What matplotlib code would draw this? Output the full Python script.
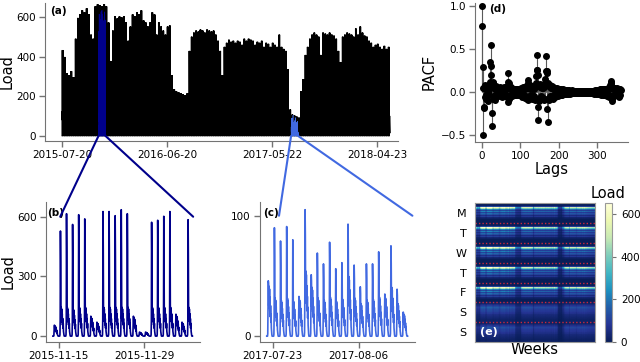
import matplotlib
matplotlib.use("Agg")
import matplotlib.pyplot as plt
import matplotlib.dates as mdates
from matplotlib.patches import ConnectionPatch
import numpy as np

# ---- data ----
# weekly peak load, one value per week starting 2015-07-20 (panel a / e)
weekly_peak = [
    424, 390, 310, 300, 320, 290, 480, 583, 600, 620,
    610, 630, 600, 500, 480, 640, 650, 645, 640, 650,
    640, 560, 370, 520, 590, 580, 590, 585, 590, 560,
    470, 540, 600, 590, 610, 600, 620, 570, 560, 540,
    560, 610, 600, 500, 560, 540, 520, 500, 540, 545,
    300, 230, 220, 215, 210, 205, 200, 210, 420, 490,
    510, 520, 515, 525, 520, 510, 525, 520, 515, 520,
    500, 470, 420, 300, 440, 460, 475, 465, 470, 460,
    470, 465, 450, 480, 470, 480, 475, 470, 450, 465,
    460, 470, 440, 460, 455, 440, 460, 450, 440, 500,
    440, 430, 420, 330, 130, 105, 100, 95, 90, 220,
    280, 400, 440, 480, 500, 510, 500, 490, 400, 510,
    505, 500, 510, 500, 495, 480, 420, 365, 490, 500,
    510, 505, 500, 490, 530, 500, 540, 510, 495, 490,
    470, 460, 440, 450, 455, 440, 430, 445, 430, 440,
]
week0 = np.datetime64("2015-07-20T00")

# hourly shape of one working day (plateau part) and the sharp spike
day_shape = [0.0, 0.0, 0.0, 0.0, 0.05, 0.5, 1.0, 0.95, 0.55, 0.9, 0.5, 0.85,
             0.45, 0.7, 0.35, 0.55, 0.25, 0.4, 0.15, 0.08, 0.03, 0.0, 0.0, 0.0]
spike_shape = [0, 0, 0, 0, 0, 0, 1, 0.6, 0, 0, 0, 0,
               0, 0, 0, 0, 0, 0, 0, 0, 0, 0, 0, 0]
# flatter shape of a weekend day
weekend_shape = [0.15, 0.15, 0.2, 0.4, 0.6, 0.8, 1.0, 0.9, 0.9, 0.8, 0.75, 0.7,
                 0.6, 0.55, 0.5, 0.4, 0.35, 0.3, 0.25, 0.2, 0.2, 0.15, 0.15, 0.15]
# share of the weekly peak per weekday (Mon..Sun)
spike_weight = [0.6, 0.6, 0.6, 0.6, 0.6, 0.0, 0.0]
plateau_weight = [0.42, 0.42, 0.42, 0.42, 0.42, 0.0, 0.0]
weekend_weight = [0.0, 0.0, 0.0, 0.0, 0.0, 0.26, 0.23]

# panel b: daily peaks / plateau, 2015-11-14 .. 2015-12-06
b_start = np.datetime64("2015-11-14T00")
b_peak = [55, 528, 615, 561, 610, 589, 100, 70, 626, 626, 605, 635,
          615, 100, 20, 20, 572, 582, 602, 626, 110, 70, 585]
b_plateau = [55, 160, 160, 150, 160, 160, 100, 70, 160, 160, 160, 160,
             160, 100, 20, 20, 160, 160, 160, 160, 110, 70, 160]

# panel c: daily peaks / plateau, 2017-07-22 .. 2017-08-13
c_start = np.datetime64("2017-07-22T00")
c_peak = [46, 90, 79, 91, 80, 33, 105, 51, 69, 60, 78, 56,
          61, 93, 59, 41, 60, 60, 70, 35, 75, 39, 20]
c_plateau = [46, 35, 33, 35, 32, 33, 60, 45, 35, 33, 36, 32,
             34, 55, 35, 30, 33, 34, 36, 35, 45, 30, 20]

# panel d: partial autocorrelation, lags 0..360
pacf = [
    1.0, 0.77, -0.5, 0.29, 0.05, -0.17, -0.19, 0.08, -0.06, 0.04, -0.08, 0.06,
    -0.03, 0.07, -0.05, 0.03, -0.1, 0.06, 0.02, -0.04, 0.08, 0.12, 0.35, 0.55,
    0.3, 0.2, -0.25, -0.4, 0.1, -0.08, 0.12, -0.05, 0.06, -0.09, 0.04, -0.03,
    0.07, -0.06, 0.03, -0.04, 0.05, -0.02, 0.04, -0.05, 0.02, -0.03, 0.05, -0.04,
    0.06, -0.05, 0.04, -0.03, 0.05, -0.06, 0.02, -0.04, 0.03, -0.05, 0.06, -0.02,
    0.04, -0.03, 0.05, -0.04, 0.03, -0.06, 0.07, -0.12, 0.22, 0.12, 0.1, -0.08,
    0.05, -0.06, 0.04, -0.03, 0.06, -0.04, 0.03, -0.05, 0.04, -0.02, 0.03, -0.04,
    0.02, -0.03, 0.04, -0.02, 0.03, -0.03, 0.02, -0.02, 0.03, -0.03, 0.02, -0.02,
    0.03, -0.02, 0.02, -0.03, 0.04, -0.03, 0.05, -0.04, 0.03, -0.06, 0.04, -0.05,
    0.06, -0.03, 0.05, -0.07, 0.04, -0.05, 0.07, -0.06, 0.05, -0.08, 0.06, 0.14,
    0.1, -0.09, 0.06, -0.05, 0.08, -0.06, 0.04, -0.07, 0.05, -0.04, 0.06, -0.08,
    0.05, -0.06, 0.07, -0.05, 0.04, -0.07, 0.06, -0.09, 0.1, 0.18, 0.25, 0.43,
    0.25, 0.2, -0.18, -0.32, 0.08, -0.1, 0.06, -0.07, 0.09, -0.05, 0.07, -0.08,
    0.05, -0.06, 0.08, -0.07, 0.05, -0.09, 0.06, -0.08, 0.1, 0.15, 0.24, 0.42,
    0.24, 0.22, -0.2, -0.35, 0.1, -0.08, 0.07, -0.09, 0.06, -0.05, 0.08, -0.07,
    0.05, -0.06, 0.07, -0.05, 0.04, -0.08, 0.06, -0.05, 0.04, -0.06, 0.05, -0.04,
    0.04, -0.03, 0.05, -0.04, 0.03, -0.05, 0.04, -0.03, 0.03, -0.02, 0.04, -0.03,
    0.02, -0.03, 0.03, -0.02, 0.02, -0.03, 0.02, -0.02, 0.03, -0.02, 0.02, -0.02,
    0.02, -0.02, 0.01, -0.02, 0.02, -0.01, 0.02, -0.02, 0.01, -0.01, 0.02, -0.01,
    0.01, -0.02, 0.01, -0.01, 0.01, -0.01, 0.02, -0.01, 0.01, -0.01, 0.01, -0.01,
    0.01, -0.01, 0.01, -0.01, 0.0, -0.01, 0.01, -0.01, 0.01, 0.0, 0.01, -0.01,
    0.01, -0.01, 0.0, -0.01, 0.01, -0.01, 0.01, -0.01, 0.01, 0.0, 0.01, -0.01,
    0.01, -0.01, 0.01, -0.01, 0.01, -0.01, 0.0, -0.01, 0.01, -0.01, 0.01, -0.01,
    0.01, 0.0, 0.01, -0.01, 0.01, -0.01, 0.01, -0.01, 0.0, -0.01, 0.01, -0.01,
    0.01, -0.01, 0.01, -0.02, 0.01, -0.01, 0.02, -0.01, 0.01, -0.02, 0.02, -0.01,
    0.02, -0.02, 0.01, -0.02, 0.02, -0.02, 0.03, -0.02, 0.02, -0.03, 0.03, -0.02,
    0.03, -0.02, 0.02, -0.03, 0.04, -0.03, 0.03, -0.04, 0.03, -0.02, 0.04, -0.03,
    0.03, -0.05, 0.04, -0.03, 0.05, -0.04, 0.03, -0.06, 0.05, 0.08, 0.1, 0.13,
    0.1, 0.06, -0.08, -0.1, 0.05, -0.04, 0.03, -0.05, 0.04, -0.03, 0.05, -0.04,
    0.02, -0.03, 0.04, -0.03, 0.05, -0.04, 0.03, -0.06, 0.04, -0.05, 0.03, -0.04,
    0.02,
]

a_ticks = ["2015-07-20", "2016-06-20", "2017-05-22", "2018-04-23"]
b_ticks = ["2015-11-15", "2015-11-29"]
c_ticks = ["2017-07-23", "2017-08-06"]
day_labels = ["M", "T", "W", "T", "F", "S", "S"]

b_color = "#00008b"
c_color = "#4169e1"
spine_grey = "0.45"


def daily_series(start, peaks, plateaus):
    shape = np.array(day_shape)
    spike = np.array(spike_shape)
    vals = [p * shape + (pk - p) * spike for pk, p in zip(peaks, plateaus)]
    vals = np.concatenate(vals)
    times = start + np.arange(len(vals)).astype("timedelta64[h]")
    return times.astype("datetime64[m]").astype(object), vals


def style(ax):
    for s in ["top", "right"]:
        ax.spines[s].set_visible(False)
    for s in ["left", "bottom"]:
        ax.spines[s].set_color(spine_grey)
    ax.tick_params(colors=spine_grey, labelcolor="black", labelsize=7.5,
                   length=4, width=1, pad=2.5)


# weeks x weekday x hour load cube
day_prof = np.array([pw * np.array(day_shape) + sw * np.array(spike_shape)
                     + ww * np.array(weekend_shape)
                     for sw, pw, ww in zip(spike_weight, plateau_weight,
                                           weekend_weight)])
cube = np.array(weekly_peak)[:, None, None] * day_prof[None, :, :]
hourly = cube.ravel()
a_times = (week0 + np.arange(len(hourly)).astype("timedelta64[h]"))
a_times = a_times.astype("datetime64[m]").astype(object)

b_times, b_vals = daily_series(b_start, b_peak, b_plateau)
c_times, c_vals = daily_series(c_start, c_peak, c_plateau)

fig = plt.figure(figsize=(6.4, 3.62), dpi=100)
bot = 0.055
ax_a = fig.add_axes([0.0703, 0.6105, 0.5516, 0.381])
ax_b = fig.add_axes([0.0719, bot, 0.2406, 0.387])
ax_c = fig.add_axes([0.406, bot, 0.242, 0.387])
ax_d = fig.add_axes([0.742, 0.608, 0.239, 0.384])
ax_e = fig.add_axes([0.742, bot, 0.1875, 0.384])
cax = fig.add_axes([0.945, bot, 0.011, 0.384])

# (a)
ax_a.plot(a_times, hourly, color="black", lw=0.4)
ax_a.plot(b_times, b_vals, color=b_color, lw=0.4)
ax_a.plot(c_times, c_vals, color=c_color, lw=0.4)
d0 = np.datetime64("2015-07-20")
ax_a.set_xlim((d0 - np.timedelta64(54, "D")).astype(object),
              (d0 + np.timedelta64(1075, "D")).astype(object))
ax_a.set_ylim(-25, 670)
ax_a.set_yticks([0, 200, 400, 600])
ax_a.set_xticks([np.datetime64(t).astype(object) for t in a_ticks])
ax_a.xaxis.set_major_formatter(mdates.DateFormatter("%Y-%m-%d"))
ax_a.set_ylabel("Load", fontsize=10.5, labelpad=1)
style(ax_a)
ax_a.text(0.015, 0.98, "(a)", transform=ax_a.transAxes, fontsize=7.5,
          fontweight="bold", va="top")

# (b)
ax_b.plot(b_times, b_vals, color=b_color, lw=1.2)
bd = np.datetime64("2015-11-15T00")
ax_b.set_xlim((bd - np.timedelta64(51, "h")).astype(object),
              (bd + np.timedelta64(557, "h")).astype(object))
ax_b.set_ylim(-30, 674)
ax_b.set_yticks([0, 300, 600])
ax_b.set_xticks([np.datetime64(t).astype(object) for t in b_ticks])
ax_b.xaxis.set_major_formatter(mdates.DateFormatter("%Y-%m-%d"))
ax_b.set_ylabel("Load", fontsize=10.5, labelpad=1)
style(ax_b)
ax_b.text(0.01, 0.96, "(b)", transform=ax_b.transAxes, fontsize=7.5,
          fontweight="bold", va="top")

# (c)
ax_c.plot(c_times, c_vals, color=c_color, lw=1.2)
cd = np.datetime64("2017-07-23T00")
ax_c.set_xlim((cd - np.timedelta64(51, "h")).astype(object),
              (cd + np.timedelta64(555, "h")).astype(object))
ax_c.set_ylim(-4.9, 111.4)
ax_c.set_yticks([0, 100])
ax_c.set_xticks([np.datetime64(t).astype(object) for t in c_ticks])
ax_c.xaxis.set_major_formatter(mdates.DateFormatter("%Y-%m-%d"))
style(ax_c)
ax_c.text(0.02, 0.96, "(c)", transform=ax_c.transAxes, fontsize=7.5,
          fontweight="bold", va="top")

# (d)
lags = np.arange(len(pacf))
ax_d.vlines(lags, 0, pacf, color="0.35", lw=0.8)
ax_d.plot(lags, pacf, "o", color="black", ms=4)
ax_d.set_xlim(-18, 379)
ax_d.set_ylim(-0.58, 1.035)
ax_d.set_xticks([0, 100, 200, 300])
ax_d.set_yticks([-0.5, 0.0, 0.5, 1.0])
ax_d.set_xlabel("Lags", fontsize=10.5, labelpad=1)
ax_d.set_ylabel("PACF", fontsize=10.5, labelpad=3)
style(ax_d)
ax_d.text(0.09, 0.99, "(d)", transform=ax_d.transAxes, fontsize=7.5,
          fontweight="bold", va="top")

# (e) heatmap: rows = weekday x hour, columns = weeks
heat = cube.reshape(len(weekly_peak), -1).T
im = ax_e.imshow(heat, aspect="auto", cmap="YlGnBu_r", vmin=0, vmax=650,
                 interpolation="nearest")
for k in range(1, 7):
    ax_e.axhline(k * 24 - 0.5, color="#c8283c", ls=(0, (1, 1.5)), lw=1)
ax_e.set_yticks(np.arange(7) * 24 + 11.5)
ax_e.set_yticklabels(day_labels, fontsize=8)
ax_e.set_xticks([])
ax_e.tick_params(axis="y", length=0, pad=6)
ax_e.set_xlabel("Weeks", fontsize=10.5, labelpad=0)
for s in ax_e.spines.values():
    s.set_color("0.6")
ax_e.text(0.04, 0.04, "(e)", transform=ax_e.transAxes, fontsize=8,
          fontweight="bold", color="white", va="bottom")

cb = fig.colorbar(im, cax=cax, ticks=[0, 200, 400, 600])
cb.outline.set_edgecolor("0.6")
cb.ax.tick_params(labelsize=7.5, length=3, colors=spine_grey,
                  labelcolor="black")
cb.ax.set_title("Load", fontsize=10.5, pad=4)

# zoom connectors
b_left = np.datetime64("2015-11-15T05").astype(object)
b_right = np.datetime64("2015-12-07T02").astype(object)
c_left = np.datetime64("2017-07-24T00").astype(object)
c_right = np.datetime64("2017-08-14T18").astype(object)
for xa, xb, ax, y, col in [
    (mdates.date2num(b_times[0]), b_left, ax_b, 600, b_color),
    (mdates.date2num(b_times[-1]), b_right, ax_b, 600, b_color),
    (mdates.date2num(c_times[0]), c_left, ax_c, 100, c_color),
    (mdates.date2num(c_times[-1]), c_right, ax_c, 100, c_color),
]:
    con = ConnectionPatch(xyA=(xa, 0), coordsA=ax_a.transData,
                          xyB=(mdates.date2num(xb), y), coordsB=ax.transData,
                          color=col, lw=1.5)
    fig.add_artist(con)

fig.savefig("out.png", dpi=100)
